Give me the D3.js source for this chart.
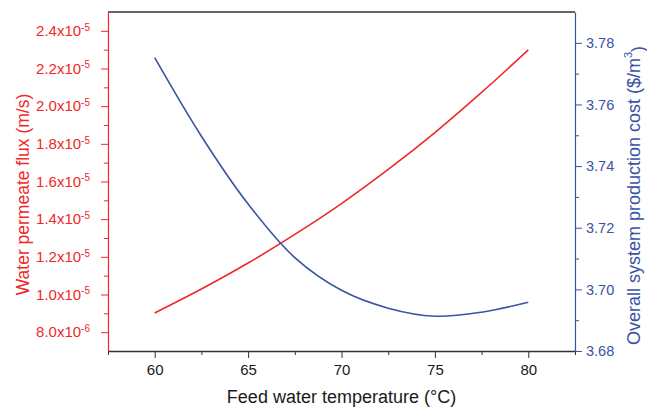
<!DOCTYPE html>
<html lang="en">
<head>
    <meta charset="UTF-8">
    <title>Flux and cost vs feed temperature</title>
    <script src="https://cdn.jsdelivr.net/npm/d3@7"></script>
    <style>
        body { margin: 0; background: #fff; }
        text { font-family: Arial, "Liberation Sans", sans-serif; }
    </style>
</head>
<body>
<script>
    // data
    var temps = [60, 62.5, 65, 67.5, 70, 72.5, 75, 77.5, 80];
    var flux = [9.02e-6, 10.29e-6, 11.67e-6, 13.19e-6, 14.83e-6, 16.64e-6, 18.60e-6, 20.73e-6, 22.99e-6];
    var cost = [3.7752, 3.7497, 3.7277, 3.7103, 3.6997, 3.6939, 3.6913, 3.6926, 3.6958];

    var xTicks = [60, 65, 70, 75, 80];
    var xMinor = [57.5, 62.5, 67.5, 72.5, 77.5, 82.5];
    var fluxTicks = [8e-6, 1.0e-5, 1.2e-5, 1.4e-5, 1.6e-5, 1.8e-5, 2.0e-5, 2.2e-5, 2.4e-5];
    var fluxMinor = [9e-6, 1.1e-5, 1.3e-5, 1.5e-5, 1.7e-5, 1.9e-5, 2.1e-5, 2.3e-5];
    var costTicks = [3.68, 3.70, 3.72, 3.74, 3.76, 3.78];
    var costMinor = [3.69, 3.71, 3.73, 3.75, 3.77];

    // plot area (window.top is reserved, so use other names)
    var width = 647, height = 407;
    var pLeft = 108, pRight = 575, pTop = 12, pBottom = 351;
    var red = "#f0282a", blue = "#3a53a4";

    var svg = d3.select("body").append("svg")
        .attr("width", width)
        .attr("height", height);

    var x = d3.scaleLinear().domain([57.5, 82.5]).range([pLeft, pRight]);
    var yL = d3.scaleLinear().domain([7e-6, 2.5e-5]).range([pBottom, pTop]);
    var yR = d3.scaleLinear().domain([3.68, 3.79]).range([pBottom, pTop]);

    // top frame line
    svg.append("line")
        .attr("x1", pLeft).attr("x2", pRight)
        .attr("y1", pTop).attr("y2", pTop)
        .attr("stroke", "#333").attr("stroke-width", 1.5);

    // bottom axis
    svg.append("g").attr("transform", "translate(0," + pBottom + ")")
        .call(d3.axisBottom(x).tickValues(xMinor).tickSize(4).tickFormat(""))
        .call(function (g) { g.select(".domain").remove(); })
        .selectAll("line").attr("stroke", "#333");
    var gx = svg.append("g").attr("transform", "translate(0," + pBottom + ")")
        .call(d3.axisBottom(x).tickValues(xTicks).tickSize(7).tickSizeOuter(0).tickPadding(6));
    gx.select(".domain").attr("stroke", "#333").attr("stroke-width", 1.5);
    gx.selectAll("line").attr("stroke", "#333");
    gx.selectAll("text").attr("font-size", 15).attr("fill", "#1a1a1a");

    // left axis (flux)
    svg.append("g").attr("transform", "translate(" + pLeft + ",0)")
        .call(d3.axisLeft(yL).tickValues(fluxMinor).tickSize(4).tickFormat(""))
        .call(function (g) { g.select(".domain").remove(); })
        .selectAll("line").attr("stroke", red);
    var gl = svg.append("g").attr("transform", "translate(" + pLeft + ",0)")
        .call(d3.axisLeft(yL).tickValues(fluxTicks).tickSize(7).tickSizeOuter(0).tickPadding(11));
    gl.select(".domain").attr("stroke", red).attr("stroke-width", 1.2);
    gl.selectAll("line").attr("stroke", red);
    gl.selectAll("text")
        .attr("font-size", 15).attr("fill", red)
        .each(function (d) {
            var e = Math.floor(Math.log10(d) + 1e-9);
            var m = d / Math.pow(10, e);
            var t = d3.select(this).text(null);
            t.append("tspan").text(m.toFixed(1) + "x10");
            t.append("tspan").attr("font-size", 10).attr("dy", "-0.55em").text(e);
        });

    // right axis (cost)
    svg.append("g").attr("transform", "translate(" + pRight + ",0)")
        .call(d3.axisRight(yR).tickValues(costMinor).tickSize(4).tickFormat(""))
        .call(function (g) { g.select(".domain").remove(); })
        .selectAll("line").attr("stroke", blue);
    var gr = svg.append("g").attr("transform", "translate(" + pRight + ",0)")
        .call(d3.axisRight(yR).tickValues(costTicks).tickSize(7).tickSizeOuter(0).tickPadding(4)
            .tickFormat(d3.format(".2f")));
    gr.select(".domain").attr("stroke", blue).attr("stroke-width", 1.2);
    gr.selectAll("line").attr("stroke", blue);
    gr.selectAll("text").attr("font-size", 14.5).attr("fill", blue);

    // curves
    svg.append("path")
        .datum(temps)
        .attr("fill", "none").attr("stroke", red).attr("stroke-width", 1.6)
        .attr("d", d3.line()
            .x(function (d) { return x(d); })
            .y(function (d, i) { return yL(flux[i]); })
            .curve(d3.curveCatmullRom));
    svg.append("path")
        .datum(temps)
        .attr("fill", "none").attr("stroke", blue).attr("stroke-width", 1.6)
        .attr("d", d3.line()
            .x(function (d) { return x(d); })
            .y(function (d, i) { return yR(cost[i]); })
            .curve(d3.curveCatmullRom));

    // axis titles
    svg.append("text")
        .attr("x", (pLeft + pRight) / 2).attr("y", 403)
        .attr("text-anchor", "middle").attr("font-size", 18).attr("fill", "#1a1a1a")
        .text("Feed water temperature (\u00B0C)");

    svg.append("text")
        .attr("transform", "translate(28.5,194.5) rotate(-90)")
        .attr("text-anchor", "middle").attr("font-size", 17.5).attr("fill", red)
        .text("Water permeate flux (m/s)");

    var rt = svg.append("text")
        .attr("transform", "translate(639.5,195.5) rotate(-90)")
        .attr("text-anchor", "middle").attr("font-size", 18).attr("fill", blue);
    rt.append("tspan").text("Overall system production cost ($/m");
    rt.append("tspan").attr("font-size", 11).attr("dy", "-0.7em").text("3");
    rt.append("tspan").attr("dy", "0.7em").text(")");
</script>
</body>
</html>
